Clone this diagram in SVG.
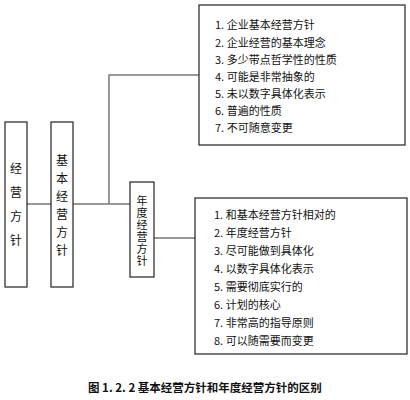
<svg xmlns="http://www.w3.org/2000/svg" width="410" height="400" viewBox="0 0 410 400">
<style>
.box{fill:#fff;stroke:#222;stroke-width:1.2}
.con{fill:none;stroke:#777;stroke-width:1.5}
.con2{fill:none;stroke:#333;stroke-width:1}
text{font-family:"Noto Sans CJK SC","Noto Sans CJK JP",sans-serif;fill:#111}
.v{font-size:12px;text-anchor:middle;writing-mode:vertical-rl}
.l{font-size:11px;dominant-baseline:central}
.cap{font-size:11.5px;font-weight:bold;dominant-baseline:central}
</style>
<rect width="410" height="400" fill="#fff"/>
<g id="connectors">
<line class="con" x1="27" y1="204" x2="51" y2="204"/>
<line class="con" x1="73" y1="204" x2="130" y2="204"/>
<polyline class="con" points="109,204 109,75 199,75"/>
<line class="con2" x1="154" y1="238" x2="195" y2="238"/>
</g>
<g id="node-jingying">
<rect class="box" x="5" y="122" width="22" height="165"/>
<text class="v" x="16" y="210" style="letter-spacing:12px">经营方针</text>
</g>
<g id="node-jiben">
<rect class="box" x="51" y="122" width="22" height="165"/>
<text class="v" x="62" y="208.5" style="letter-spacing:6px">基本经营方针</text>
</g>
<g id="node-niandu">
<rect class="box" x="130" y="182" width="24" height="95"/>
<text class="v" x="142" y="231" style="font-size:11px;letter-spacing:1px">年度经营方针</text>
</g>
<g id="node-jiben-list">
<rect class="box" x="199" y="5" width="206" height="140"/>
<text class="l" x="215" y="24">1. 企业基本经营方针</text>
<text class="l" x="215" y="42">2. 企业经营的基本理念</text>
<text class="l" x="215" y="59">3. 多少带点哲学性的性质</text>
<text class="l" x="215" y="76">4. 可能是非常抽象的</text>
<text class="l" x="215" y="93">5. 未以数字具体化表示</text>
<text class="l" x="215" y="110">6. 普遍的性质</text>
<text class="l" x="215" y="127">7. 不可随意变更</text>
</g>
<g id="node-niandu-list">
<rect class="box" x="195" y="198" width="212" height="156"/>
<text class="l" x="214" y="214">1. 和基本经营方针相对的</text>
<text class="l" x="214" y="232">2. 年度经营方针</text>
<text class="l" x="214" y="250">3. 尽可能做到具体化</text>
<text class="l" x="214" y="268">4. 以数字具体化表示</text>
<text class="l" x="214" y="286">5. 需要彻底实行的</text>
<text class="l" x="214" y="304">6. 计划的核心</text>
<text class="l" x="214" y="322">7. 非常高的指导原则</text>
<text class="l" x="214" y="340">8. 可以随需要而变更</text>
</g>
<text class="cap" x="88" y="387">图 1. 2. 2  基本经营方针和年度经营方针的区别</text>
</svg>
